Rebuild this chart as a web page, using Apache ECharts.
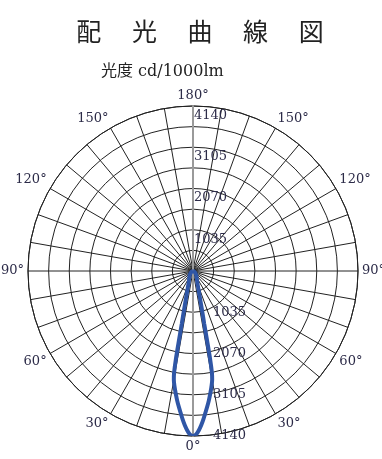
<!DOCTYPE html>
<html><head><meta charset="utf-8">
<script src="https://cdn.jsdelivr.net/npm/echarts@6/dist/echarts.min.js"></script>
<style>html,body{margin:0;padding:0;background:#fff}#c{width:382px;height:459px}</style>
</head><body><div id="c"></div>
<script>
// ---- data ----
const titleText = '配\u3000 光\u3000 曲\u3000 線\u3000 図';
const unitText = '光度 cd/1000lm';
const radialMax = 4140;
const radialStep = 517.5;
const radialTickLabels = [1035, 2070, 3105, 4140];
const angleTickLabels = [0, 30, 60, 90, 120, 150, 180];
// candela distribution (symmetric), angle from nadir (deg)
const beamAngles = [0, 1, 2, 3, 4, 5, 6, 7, 8, 9, 10, 10.5, 11, 11.5, 12, 13, 14, 16, 18, 20, 25, 30, 35, 40, 50, 60, 70, 80, 90];
const beamIntensity = [4140, 4110, 4010, 3880, 3730, 3570, 3420, 3270, 3110, 2950, 2770, 2610, 2250, 1720, 1360, 1000, 770, 530, 400, 320, 230, 180, 150, 120, 80, 50, 30, 15, 0];

// ---- build ----
const curve = [];
for (let i = beamAngles.length - 1; i >= 1; i--) curve.push([beamIntensity[i], 360 - beamAngles[i]]);
for (let i = 0; i < beamAngles.length; i++) curve.push([beamIntensity[i], beamAngles[i]]);

const txt = '#2c2b48';
const serif = "'DejaVu Serif', 'Noto Sans CJK JP', serif";
const center = [193, 271];
const R = 165;

const chart = echarts.init(document.getElementById('c'), null, {renderer: 'canvas'});
chart.setOption({
  backgroundColor: '#fff',
  animation: false,
  title: [
    {text: titleText, left: 195, top: 14, textAlign: 'center',
     textStyle: {fontFamily: "'Noto Sans CJK JP', sans-serif", fontSize: 25, fontWeight: 'normal', color: '#222'}},
    {text: unitText, left: 96, top: 59,
     textStyle: {fontFamily: serif, fontSize: 16, fontWeight: 'normal', color: '#222'}}
  ],
  polar: [
    {center: center, radius: R},
    {center: center, radius: R}
  ],
  angleAxis: [
    {polarIndex: 0, type: 'value', min: 0, max: 360, interval: 10, startAngle: -90, clockwise: true,
     axisLine: {show: true, lineStyle: {color: '#222', width: 1}},
     axisTick: {show: false},
     splitLine: {show: true, lineStyle: {color: '#222', width: 1}},
     axisLabel: {show: true, margin: 4, fontFamily: serif, fontSize: 13, color: txt,
       formatter: function (v) {
         if (v === 360) return '';
         const d = v <= 180 ? v : 360 - v;
         return angleTickLabels.indexOf(d) >= 0 && v % 30 === 0 ? d + '°' : '';
       }}},
    {polarIndex: 1, type: 'value', min: 0, max: 360, startAngle: 90, show: false}
  ],
  radiusAxis: [
    {polarIndex: 0, type: 'value', min: 0, max: radialMax, interval: radialStep, z: 3,
     axisLine: {show: true, lineStyle: {color: '#9a9a9a', width: 2}},
     axisTick: {show: false},
     splitLine: {show: true, lineStyle: {color: '#222', width: 1}},
     axisLabel: {show: true, margin: 20, fontFamily: serif, fontSize: 13, color: txt,
       formatter: function (v) { return radialTickLabels.indexOf(v) >= 0 ? String(v) : ''; }}},
    {polarIndex: 1, type: 'value', min: 0, max: radialMax, interval: radialStep, z: 3,
     axisLine: {show: true, lineStyle: {color: '#9a9a9a', width: 2}},
     axisTick: {show: false},
     splitLine: {show: false},
     axisLabel: {show: true, margin: -1, align: 'left', verticalAlign: 'top', padding: [3, 0, 0, 0],
       fontFamily: serif, fontSize: 13, color: txt,
       formatter: function (v) { return radialTickLabels.indexOf(v) >= 0 ? String(v) : ''; }}}
  ],
  series: [{
    type: 'line', coordinateSystem: 'polar', polarIndex: 0, z: 5,
    data: curve, showSymbol: false, symbol: 'none', smooth: 0.3,
    lineStyle: {color: '#2f56a6', width: 4}
  }]
});
</script></body></html>
